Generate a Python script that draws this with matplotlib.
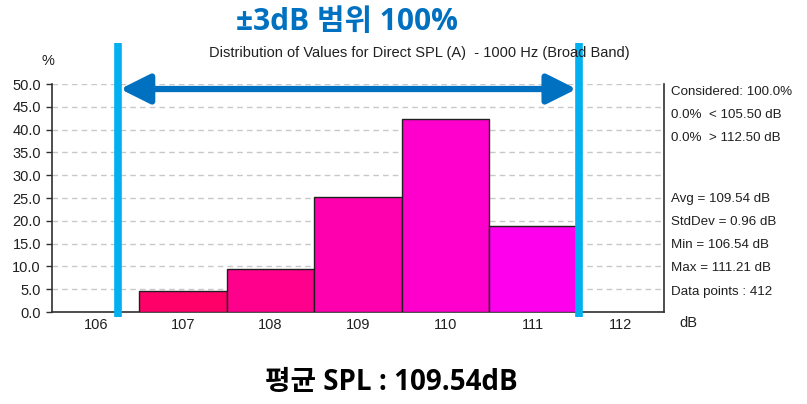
import matplotlib.pyplot as plt
import numpy as np

# histogram of Direct SPL (A), 1 dB bins
bin_centers = [107, 108, 109, 110, 111]
percent = [4.6, 9.4, 25.3, 42.4, 18.9]
bar_colors = ["#FF0068", "#FF008C", "#FF00AE", "#FF00CC", "#FF00EC"]
x_ticks = [106, 107, 108, 109, 110, 111, 112]
y_ticks = np.arange(0, 50.1, 5)

range_left, range_right = 106.25, 111.53

stats_lines = [
    ("Considered: 100.0%", 92),
    ("0.0%  < 105.50 dB", 115),
    ("0.0%  > 112.50 dB", 138),
    ("Avg = 109.54 dB", 199),
    ("StdDev = 0.96 dB", 222),
    ("Min = 106.54 dB", 245),
    ("Max = 111.21 dB", 268),
    ("Data points : 412", 292),
]

W, H = 807, 404
fig = plt.figure(figsize=(W / 100, H / 100), dpi=100)
fig.patch.set_facecolor("white")


def fx(x):
    return x / W


def fy(y):
    return 1 - y / H


ax = fig.add_axes([fx(52), fy(312), fx(664) - fx(52), fy(84) - fy(312)])
ax.bar(bin_centers, percent, width=1.0, color=bar_colors,
       edgecolor="#202020", linewidth=1.0, zorder=3)

ax.set_xlim(105.5, 112.5)
ax.set_ylim(0, 50)
ax.set_yticks(y_ticks)
ax.set_yticklabels([f"{v:.1f}" for v in y_ticks])
ax.set_xticks(x_ticks)
ax.set_xticklabels([str(t) for t in x_ticks])
ax.yaxis.grid(True, color="#C8C8C8", linestyle=(0, (4, 3)), linewidth=1.0)
ax.set_axisbelow(True)

for s in ["left", "bottom", "right"]:
    ax.spines[s].set_color("#303030")
    ax.spines[s].set_linewidth(1.2)
ax.spines["top"].set_visible(False)

ax.tick_params(axis="y", length=4, width=1, color="#303030",
               labelsize=10.5, pad=4, labelcolor="#202020")
ax.tick_params(axis="x", length=0, labelsize=10.5, pad=4, labelcolor="#202020")
for lbl in ax.get_xticklabels() + ax.get_yticklabels():
    lbl.set_fontfamily("Liberation Sans")

# ±3dB range markers and arrow
for xv in (range_left, range_right):
    ax.plot([xv, xv], [-1.1, 59.0], color="#00B0F0", linewidth=5.5,
            solid_capstyle="butt", clip_on=False, zorder=5)
ax.annotate("", xy=(range_left + 0.03, 48.9), xytext=(range_right - 0.03, 48.9),
            arrowprops=dict(arrowstyle="<|-|>,head_length=1.8,head_width=0.9",
                            color="#0070C0", linewidth=4.5, shrinkA=0, shrinkB=0),
            annotation_clip=False, zorder=6)

fig.text(fx(419), fy(53), "Distribution of Values for Direct SPL (A)  - 1000 Hz (Broad Band)",
         ha="center", va="center", fontsize=10.5, family="Liberation Sans", color="#202020")
fig.text(fx(48), fy(61), "%", ha="center", va="center", fontsize=10.5,
         family="Liberation Sans", color="#202020")
fig.text(fx(688), fy(323), "dB", ha="center", va="center", fontsize=10.5,
         family="Liberation Sans", color="#202020")

for txt, y in stats_lines:
    fig.text(fx(671), fy(y), txt, ha="left", va="center", fontsize=9.6,
             family="Liberation Sans", color="#202020")

fig.text(fx(347), fy(22), "±3dB 범위 100%", ha="center", va="center",
         fontsize=21.5, fontweight="bold", color="#0070C0",
         family=["Open Sans", "Noto Sans CJK KR"])
fig.text(fx(391), fy(382), "평균 SPL : 109.54dB", ha="center", va="center",
         fontsize=20, fontweight="bold", color="black",
         family=["Open Sans", "Noto Sans CJK KR"])

fig.savefig("out.png", dpi=100)
